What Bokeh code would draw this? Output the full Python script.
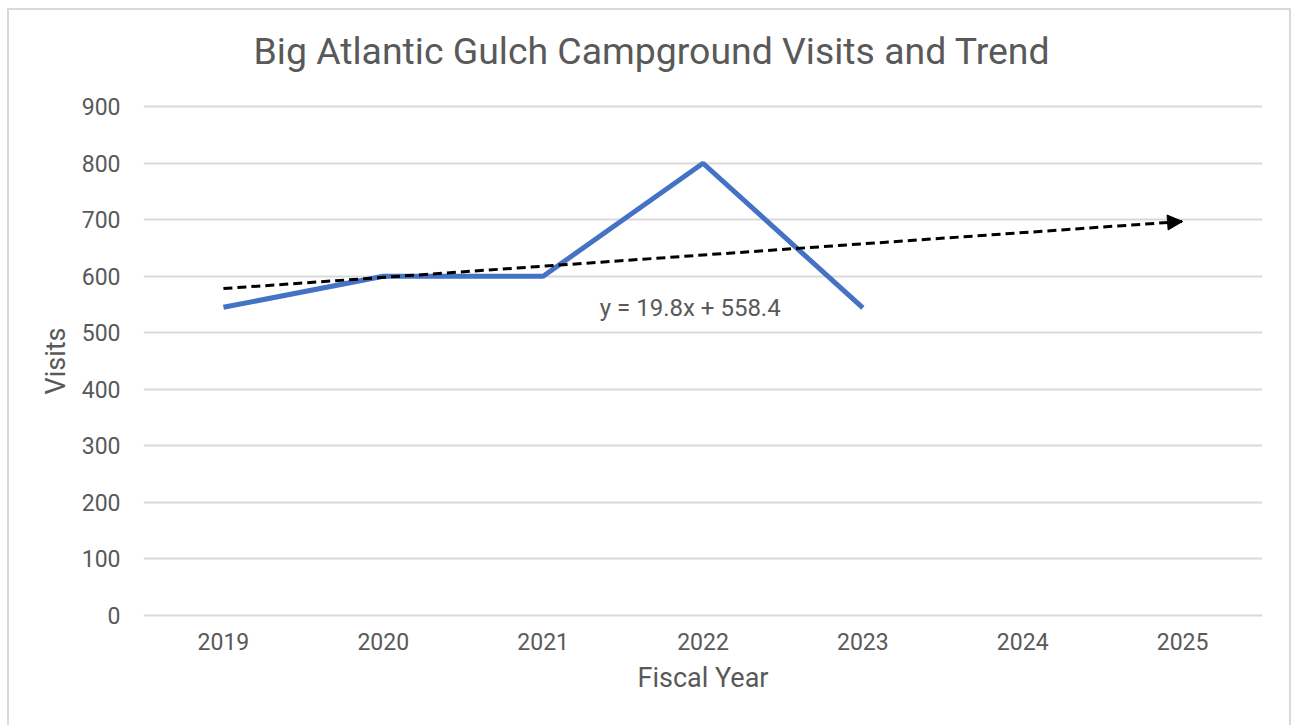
from bokeh.plotting import figure
from bokeh.models import Range1d, FixedTicker, Label, Arrow, NormalHead, Title
from bokeh.embed import file_html
from bokeh.resources import INLINE

years = [2019, 2020, 2021, 2022, 2023]
visits = [545, 600, 600, 800, 544]
axis_years = [2019, 2020, 2021, 2022, 2023, 2024, 2025]
y_ticks = [0, 100, 200, 300, 400, 500, 600, 700, 800, 900]
trend_slope = 19.8
trend_intercept = 558.4
trend_years = [2019, 2025]

title_text = "Big Atlantic Gulch Campground Visits and Trend"
eq_text = "y = 19.8x + 558.4"

FONT = "Roboto"
GRAY = "#595959"

p = figure(width=1284, height=717, output_backend="svg", toolbar_location=None,
           x_range=Range1d(2018.5, 2025.5), y_range=Range1d(-4, 904),
           min_border_left=134, min_border_right=31, min_border_top=94, min_border_bottom=110)
p.styles = {"border-top": "2px solid #d9d9d9", "border-left": "2px solid #d9d9d9",
            "border-right": "2px solid #d9d9d9", "box-sizing": "border-box",
            "margin-left": "7px", "margin-top": "8px"}

p.title.text = title_text
p.title.align = "left"
p.title.offset = 110
p.title.text_font = FONT
p.title.text_font_size = "37.4px"
p.title.text_font_style = "normal"
p.title.text_color = GRAY
p.title.standoff = 32

# empty spacer between title and plot area
p.add_layout(Title(text=" ", text_font_size="2px", standoff=12), "above")

p.outline_line_color = None
p.xgrid.grid_line_color = None
p.ygrid.grid_line_color = "#d9d9d9"
p.ygrid.grid_line_width = 2

p.xaxis.ticker = FixedTicker(ticks=axis_years)
p.yaxis.ticker = FixedTicker(ticks=y_ticks)
for ax in (p.xaxis, p.yaxis):
    ax.axis_line_color = None
    ax.major_tick_line_color = None
    ax.minor_tick_line_color = None
    ax.major_tick_out = 0
    ax.major_tick_in = 0
    ax.major_label_text_font = FONT
    ax.major_label_text_font_size = "23px"
    ax.major_label_text_color = GRAY
    ax.axis_label_text_font = FONT
    ax.axis_label_text_font_size = "27px"
    ax.axis_label_text_font_style = "normal"
    ax.axis_label_text_color = GRAY
p.xaxis.axis_label = "Fiscal Year"
p.yaxis.axis_label = "Visits"
p.yaxis.major_label_standoff = 23
p.xaxis.major_label_standoff = 15
p.xaxis.axis_label_standoff = 9
p.yaxis.axis_label_standoff = 7

p.line(years, visits, line_color="#4472c4", line_width=5)

idx = [y - 2018 for y in trend_years]
trend_vals = [trend_slope * i + trend_intercept for i in idx]
p.line(trend_years, trend_vals, line_color="black", line_width=3, line_dash="9 5")
p.add_layout(Arrow(end=NormalHead(size=15, fill_color="black", line_color="black"),
                   x_start=trend_years[1] - 0.05, y_start=trend_vals[1] - trend_slope * 0.05,
                   x_end=trend_years[1], y_end=trend_vals[1], line_alpha=0))

p.add_layout(Label(x=2021.92, y=543, text=eq_text, text_font=FONT, text_font_size="24px",
                   text_color=GRAY, text_align="center", text_baseline="middle"))

open("out.html", "w").write(file_html(p, INLINE))
